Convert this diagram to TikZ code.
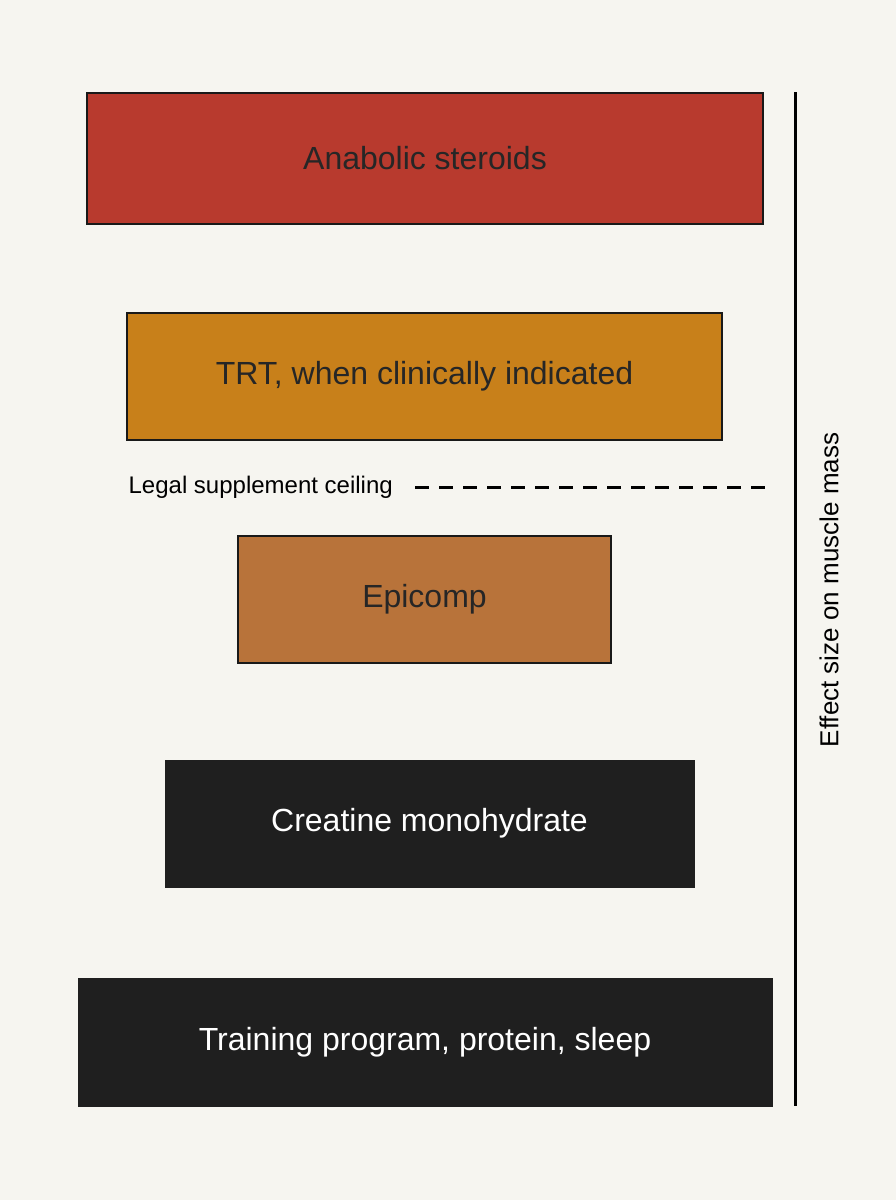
\documentclass[tikz,border=0pt]{standalone}
\usepackage{fontspec}
\setmainfont{Liberation Sans}
\begin{document}
\begin{tikzpicture}[x=1pt,y=-1pt,
 box/.style={draw=black!90,line width=2.5pt,font=\fontsize{32}{36}\selectfont,text=black!85},
 dark/.style={fill=black!88,draw=black!88,text=white,font=\fontsize{32}{36}\selectfont}]
\fill[fill={rgb,255:red,246;green,245;blue,240}] (0,0) rectangle (896,1200);
\useasboundingbox (0,0) rectangle (896,1200);
\node[box,fill={rgb,255:red,184;green,58;blue,46},minimum width=676pt,minimum height=131pt] (a) at (425,158.5) {Anabolic steroids};
\node[box,fill={rgb,255:red,200;green,128;blue,26},minimum width=595pt,minimum height=127pt] (b) at (424.5,376.5) {TRT, when clinically indicated};
\node[box,fill={rgb,255:red,184;green,115;blue,58},minimum width=373pt,minimum height=127pt] (c) at (424.5,599.5) {Epicomp};
\node[dark,minimum width=529pt,minimum height=127pt] (d) at (429.5,823.5) {Creatine monohydrate};
\node[dark,minimum width=694pt,minimum height=128pt] (e) at (425,1042) {Training program, protein, sleep};
\node[anchor=east,font=\fontsize{24}{28}\selectfont,inner sep=0pt] (l) at (393,487) {Legal supplement ceiling};
\coordinate (ls) at (415,487); \coordinate (le) at (773,487);
\draw[line width=3pt,dash pattern=on 14pt off 10pt] (ls) -- (le);
\coordinate (ax1) at (795,92); \coordinate (ax2) at (795,1106);
\draw[line width=3pt] (ax1) -- (ax2);
\node[rotate=90,font=\fontsize{26}{30}\selectfont,inner sep=0pt] (t) at (829,590) {Effect size on muscle mass};
\end{tikzpicture}
\end{document}
